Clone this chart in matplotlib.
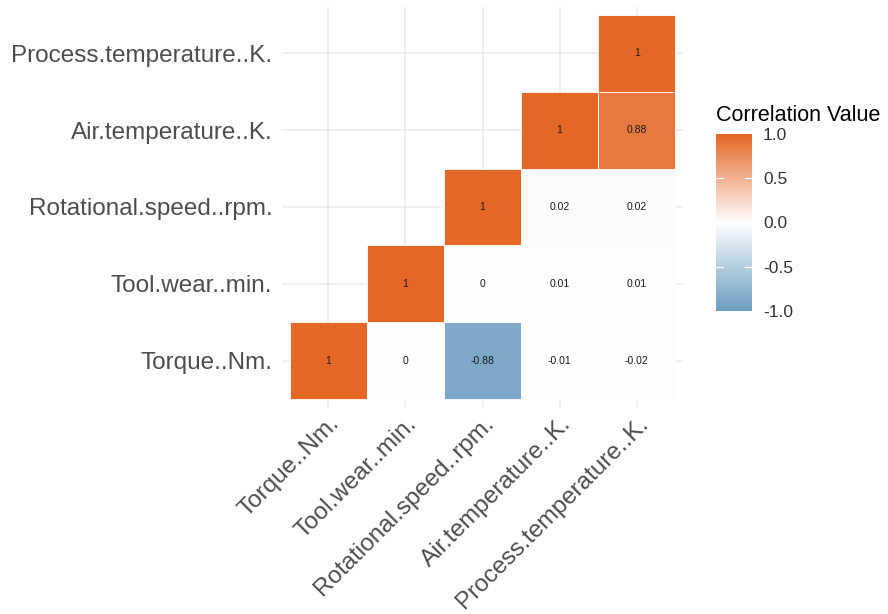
import numpy as np
import matplotlib
matplotlib.use("Agg")
import matplotlib.pyplot as plt
from matplotlib.colors import LinearSegmentedColormap

plt.rcParams['font.family'] = ['Liberation Sans', 'DejaVu Sans']

# variables, left to right on x and bottom to top on y
variables = ["Torque..Nm.", "Tool.wear..min.", "Rotational.speed..rpm.",
             "Air.temperature..K.", "Process.temperature..K."]

# upper triangle of the correlation matrix (row = y variable, col = x variable)
row_torque = [1, 0, -0.88, -0.01, -0.02]
row_toolwear = [1, 0, 0.01, 0.01]
row_rotspeed = [1, 0.02, 0.02]
row_airtemp = [1, 0.88]
row_proctemp = [1]
rows = [row_torque, row_toolwear, row_rotspeed, row_airtemp, row_proctemp]

low_col, mid_col, high_col = "#6D9EC1", "#FFFFFF", "#E46726"
cmap = LinearSegmentedColormap.from_list("corr", [low_col, mid_col, high_col])

fig = plt.figure(figsize=(8.88, 6.14), dpi=100)
ax = fig.add_axes([282 / 888, 1 - 407 / 614, 401 / 888, 400 / 614])

n = len(variables)
for k in range(n):
    ax.axvline(k, color="#EBEBEB", lw=1.1, zorder=0)
    ax.axhline(k, color="#EBEBEB", lw=1.1, zorder=0)

for j, row in enumerate(rows):
    for off, v in enumerate(row):
        i = j + off
        ax.add_patch(plt.Rectangle((i - 0.5, j - 0.5), 1, 1,
                                   facecolor=cmap((v + 1) / 2),
                                   edgecolor="white", lw=0.6, zorder=1))
        lab = "0" if v == 0 else ("1" if v == 1 else f"{v:g}")
        ax.text(i, j, lab, ha="center", va="center", fontsize=7.5,
                color="#1A1A1A", zorder=2)

ax.set_xlim(-0.6, n - 0.4)
ax.set_ylim(-0.6, n - 0.4)
ax.set_xticks(range(n))
ax.set_yticks(range(n))
ax.set_xticklabels(variables, rotation=45, ha="right", va="top",
                   rotation_mode="anchor", fontsize=17.5, color="#4D4D4D")
ax.set_yticklabels(variables, fontsize=17.5, color="#4D4D4D")
ax.tick_params(length=0, pad=7)
ax.tick_params(axis="x", pad=4)
for s in ax.spines.values():
    s.set_visible(False)

# legend colour bar
cax = fig.add_axes([716 / 888, 1 - 311 / 614, 36 / 888, 177 / 614])
grad = np.linspace(-1, 1, 300).reshape(-1, 1)
cax.imshow(grad, cmap=cmap, vmin=-1, vmax=1, aspect="auto",
           origin="lower", extent=[0, 1, -1, 1])
for t in [-0.5, 0.5]:
    cax.plot([0, 0.2], [t, t], color="white", lw=0.8)
    cax.plot([0.8, 1], [t, t], color="white", lw=0.8)
cax.set_xlim(0, 1)
cax.set_ylim(-1, 1)
cax.set_xticks([])
cax.yaxis.tick_right()
cax.set_yticks([-1, -0.5, 0, 0.5, 1])
cax.set_yticklabels(["-1.0", "-0.5", "0.0", "0.5", "1.0"], fontsize=12.5,
                    color="#333333")
cax.tick_params(length=0, pad=8)
for s in cax.spines.values():
    s.set_visible(False)
fig.text(716 / 888, 1 - 121 / 614, "Correlation Value", fontsize=15.5,
         color="black", ha="left", va="baseline")

fig.savefig("out.png", dpi=100, facecolor="white")
